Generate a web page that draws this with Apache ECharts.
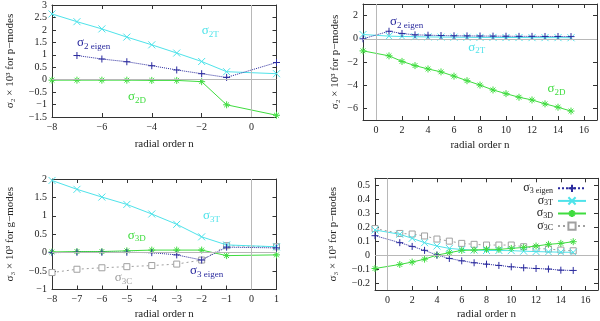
<!DOCTYPE html>
<html><head><meta charset="utf-8">
<script src="https://cdn.jsdelivr.net/npm/echarts@6/dist/echarts.min.js"></script>
<style>html,body{margin:0;padding:0;background:#fff}#c{width:600px;height:321px}</style>
</head><body><div id="c"></div>
<script>
// ---------- data ----------
const nG = [-8, -7, -6, -5, -4, -3, -2, -1, 1];
const nP = [-1, 1, 2, 3, 4, 5, 6, 7, 8, 9, 10, 11, 12, 13, 14, 15];

// panel 1 (sigma2, negative n)
const p1_T = [2.64, 2.33, 2.04, 1.71, 1.40, 1.07, 0.73, 0.32, 0.24];
const p1_eig = [null, 0.97, 0.83, 0.72, 0.56, 0.39, 0.24, 0.09, 0.69];
const p1_D = [-0.02, -0.02, -0.02, -0.02, -0.03, -0.03, -0.08, -1.01, -1.43];

// panel 2 (sigma2, positive n)
const p2_eig = [0.0, 0.65, 0.46, 0.34, 0.31, 0.28, 0.26, 0.25, 0.24, 0.23, 0.22, 0.21, 0.21, 0.20, 0.20, 0.19];
const p2_T = [0.37, 0.23, 0.20, 0.18, 0.16, 0.15, 0.14, 0.13, 0.12, 0.12, 0.11, 0.11, 0.10, 0.10, 0.10, 0.09];
const p2_D = [-1.04, -1.47, -1.95, -2.31, -2.60, -2.85, -3.22, -3.61, -3.99, -4.41, -4.73, -5.04, -5.27, -5.61, -5.90, -6.23];

// panel 3 (sigma3, negative n)
const p3_T = [1.96, 1.72, 1.51, 1.31, 1.05, 0.77, 0.43, 0.21, 0.16];
const p3_D = [0.02, 0.03, 0.03, 0.05, 0.07, 0.07, 0.07, -0.08, -0.06];
const p3_eig = [0.0, 0.01, 0.01, 0.01, 0.0, -0.06, -0.20, 0.15, 0.13];
const p3_C = [-0.54, -0.45, -0.41, -0.38, -0.35, -0.31, -0.20, 0.19, 0.16];

// panel 4 (sigma3, positive n)
const p4_eig = [0.139, 0.089, 0.062, 0.034, 0.0, -0.024, -0.041, -0.055, -0.065, -0.074, -0.084, -0.091, -0.096, -0.100, -0.108, -0.110];
const p4_T = [0.180, 0.149, 0.120, 0.089, 0.065, 0.048, 0.040, 0.036, 0.033, 0.033, 0.032, 0.028, 0.025, 0.023, 0.021, 0.020];
const p4_D = [-0.096, -0.067, -0.050, -0.029, 0.0, 0.017, 0.034, 0.036, 0.041, 0.041, 0.048, 0.055, 0.065, 0.077, 0.084, 0.096];
const p4_C = [0.190, 0.155, 0.151, 0.137, 0.115, 0.100, 0.084, 0.077, 0.072, 0.072, 0.072, 0.060, 0.048, 0.043, 0.036, 0.031];

// tick values
const xTicksG1 = [-8, -6, -4, -2, 0];
const xTicksG3 = [-8, -7, -6, -5, -4, -3, -2, -1, 0, 1];
const xTicksP = [0, 2, 4, 6, 8, 10, 12, 14, 16];
const yTicks1 = [-1.5, -1, -0.5, 0, 0.5, 1, 1.5, 2, 2.5, 3];
const yTicks2 = [-6, -4, -2, 0, 2];
const yTicks3 = [-1, -0.5, 0, 0.5, 1, 1.5, 2];
const yTicks4 = [-0.2, -0.1, 0, 0.1, 0.2, 0.3, 0.4, 0.5];

const yTitle1 = 'σ₂ × 10³ for p−modes';
const yTitle2 = 'σ₂ × 10³ for p−modes';
const yTitle3 = 'σ₃ × 10³ for g−modes';
const yTitle4 = 'σ₃ × 10³ for p−modes';
const xTitle = 'radial order n';

// ---------- styles ----------
const FONT = '"Liberation Serif","DejaVu Serif",serif';
const C_CYAN = '#4fe3ea', C_BLUE = '#2b2b9e', C_GREEN = '#3fdc3f', C_GRAY = '#a0a0a0';
const S_CROSS = 'path://M0,0L10,10M10,0L0,10';
const S_PLUS = 'path://M5,0L5,10M0,5L10,5';
const S_STAR = 'path://M5,0L5,10M0,5L10,5M1.6,1.6L8.4,8.4M8.4,1.6L1.6,8.4';
const S_SQUARE = 'path://M0,0L10,0L10,10L0,10Z';

const grids = [
  {left: 52, top: 4.5, width: 224.5, height: 112.5},
  {left: 363, top: 4, width: 234, height: 116},
  {left: 52, top: 179, width: 224.5, height: 110.5},
  {left: 375, top: 178.3, width: 223, height: 111.7}
];

const fmt = v => {
  let s = String(Math.round(v * 1000) / 1000);
  return s.replace('-', '−');
};

const xRanges = [[-8, 1, xTicksG1, 22], [-1, 17, xTicksP, 20], [-8, 1, xTicksG3, 19], [-1, 17, xTicksP, 19]];
const yRanges = [[-1.5, 3, yTicks1, yTitle1, 36], [-7, 3, yTicks2, yTitle2, 22], [-1, 2, yTicks3, yTitle3, 36], [-0.25, 0.55, yTicks4, yTitle4, 36]];

const xAxes = [], yAxes = [];
grids.forEach((g, i) => {
  const [xmin, xmax, xt, xg] = xRanges[i];
  const [ymin, ymax, yt, ytitle, yg] = yRanges[i];
  const lineC = {lineStyle: {color: '#333', width: 1}};
  xAxes.push({type: 'value', gridIndex: i, min: xmin, max: xmax, position: 'bottom',
    name: xTitle, nameLocation: 'middle', nameGap: xg,
    nameTextStyle: {fontFamily: FONT, fontSize: 11, color: '#222'},
    axisLine: {show: true, onZero: false, ...lineC},
    axisTick: {inside: true, length: 4, customValues: xt, lineStyle: {color: '#333'}},
    axisLabel: {customValues: xt, formatter: fmt, fontFamily: FONT, fontSize: 10, color: '#222', margin: 5},
    splitLine: {show: false}});
  xAxes.push({type: 'value', gridIndex: i, min: xmin, max: xmax, position: 'top',
    axisLine: {show: true, onZero: false, ...lineC},
    axisTick: {inside: true, length: 4, customValues: xt, lineStyle: {color: '#333'}},
    axisLabel: {show: false}, splitLine: {show: false}});
  yAxes.push({type: 'value', gridIndex: i, min: ymin, max: ymax, position: 'left',
    name: ytitle, nameLocation: 'middle', nameGap: yg, nameRotate: 90,
    nameTextStyle: {fontFamily: FONT, fontSize: 11, color: '#222'},
    axisLine: {show: true, onZero: false, ...lineC},
    axisTick: {inside: true, length: 4, customValues: yt, lineStyle: {color: '#333'}},
    axisLabel: {customValues: yt, formatter: fmt, fontFamily: FONT, fontSize: 10, color: '#222', margin: 5},
    splitLine: {show: false}});
  yAxes.push({type: 'value', gridIndex: i, min: ymin, max: ymax, position: 'right',
    axisLine: {show: true, onZero: false, ...lineC},
    axisTick: {inside: true, length: 4, customValues: yt, lineStyle: {color: '#333'}},
    axisLabel: {show: false}, splitLine: {show: false}});
});

const zeroLines = {
  silent: true, symbol: 'none', label: {show: false},
  lineStyle: {color: '#b8b8b8', type: 'solid', width: 1},
  emphasis: {disabled: true},
  data: [{xAxis: 0}, {yAxis: 0}]
};

function ser(name, xs, ys, gi, color, symbol, lineType, size, z, fill, extra) {
  const s = {
    type: 'line', name, xAxisIndex: gi * 2, yAxisIndex: gi * 2,
    data: xs.map((x, k) => [x, ys[k]]),
    symbol, symbolSize: size, symbolKeepAspect: true,
    lineStyle: {color, width: 1, type: lineType},
    itemStyle: {color: fill || color, borderColor: color, borderWidth: 1},
    emphasis: {disabled: true}, animation: false, z
  };
  return Object.assign(s, extra || {});
}

const series = [
  ser('p1 T', nG, p1_T, 0, C_CYAN, S_CROSS, 'solid', 7, 3, null, {markLine: zeroLines}),
  ser('p1 eig', nG, p1_eig, 0, C_BLUE, S_PLUS, 'dotted', 7, 4),
  ser('p1 D', nG, p1_D, 0, C_GREEN, S_STAR, 'solid', 7, 3),

  ser('p2 T', nP, p2_T, 1, C_CYAN, S_CROSS, 'solid', 7, 3, null, {markLine: zeroLines}),
  ser('p2 eig', nP, p2_eig, 1, C_BLUE, S_PLUS, 'dotted', 7, 4),
  ser('p2 D', nP, p2_D, 1, C_GREEN, S_STAR, 'solid', 7, 3),

  ser('p3 C', nG, p3_C, 2, C_GRAY, S_SQUARE, [2, 3], 6, 2, '#ffffff', {markLine: zeroLines}),
  ser('p3 T', nG, p3_T, 2, C_CYAN, S_CROSS, 'solid', 7, 3),
  ser('p3 D', nG, p3_D, 2, C_GREEN, S_STAR, 'solid', 7, 3),
  ser('p3 eig', nG, p3_eig, 2, C_BLUE, S_PLUS, 'dotted', 7, 4),

  ser('σ3 eigen', nP, p4_eig, 3, C_BLUE, S_PLUS, 'dotted', 7, 4, null, {markLine: zeroLines}),
  ser('σ3T', nP, p4_T, 3, C_CYAN, S_CROSS, 'solid', 7, 3),
  ser('σ3D', nP, p4_D, 3, C_GREEN, S_STAR, 'solid', 7, 3),
  ser('σ3C', nP, p4_C, 3, C_GRAY, S_SQUARE, [2, 3], 6, 2, '#ffffff')
];

const legendSub = {'σ3 eigen': '3 eigen', 'σ3T': '3T', 'σ3D': '3D', 'σ3C': '3C'};

const rich = {
  s: {fontFamily: FONT, fontSize: 13, lineHeight: 15, verticalAlign: 'top'},
  b: {fontFamily: FONT, fontSize: 9, lineHeight: 9, verticalAlign: 'bottom'}
};

const chart = echarts.init(document.getElementById('c'), null, {renderer: 'canvas'});
chart.setOption({
  backgroundColor: '#fff',
  animation: false,
  grid: grids.map(g => Object.assign({show: false, containLabel: false}, g)),
  xAxis: xAxes,
  yAxis: yAxes,
  legend: {
    data: ['σ3 eigen', 'σ3T', 'σ3D', 'σ3C'],
    orient: 'vertical', right: 13, top: 182, align: 'right', padding: 0,
    itemWidth: 28, itemHeight: 9, itemGap: 0,
    selectedMode: false,
    formatter: n => '{s|σ}{b|' + legendSub[n] + '}',
    textStyle: {color: '#222', rich: {
      s: {fontFamily: FONT, fontSize: 12, lineHeight: 12.6, verticalAlign: 'top', color: '#222'},
      b: {fontFamily: FONT, fontSize: 8, lineHeight: 8, verticalAlign: 'bottom', color: '#222'}
    }}
  },
  series
});

// annotations (data coordinates of left-middle anchor)
const annos = [
  [0, -2.0, 1.92, '2T', C_CYAN],
  [0, -7.0, 1.44, '2 eigen', C_BLUE],
  [0, -4.95, -0.72, '2D', C_GREEN],
  [1, 1.08, 1.39, '2 eigen', C_BLUE],
  [1, 7.1, -0.8, '2T', C_CYAN],
  [1, 13.2, -4.4, '2D', C_GREEN],
  [2, -1.95, 0.98, '3T', C_CYAN],
  [2, -4.96, 0.45, '3D', C_GREEN],
  [2, -5.48, -0.71, '3C', C_GRAY],
  [2, -2.47, -0.52, '3 eigen', C_BLUE]
];
const graphic = annos.map(([gi, x, y, sub, col]) => {
  const p = chart.convertToPixel({xAxisIndex: gi * 2, yAxisIndex: gi * 2}, [x, y]);
  return {
    type: 'text', x: p[0], y: p[1], z: 10,
    style: {
      text: '{s|σ}{b|' + sub + '}', fill: col, align: 'left', verticalAlign: 'middle',
      rich: {
        s: Object.assign({fill: col}, rich.s),
        b: Object.assign({fill: col}, rich.b)
      }
    }
  };
});
chart.setOption({graphic});
</script></body></html>
